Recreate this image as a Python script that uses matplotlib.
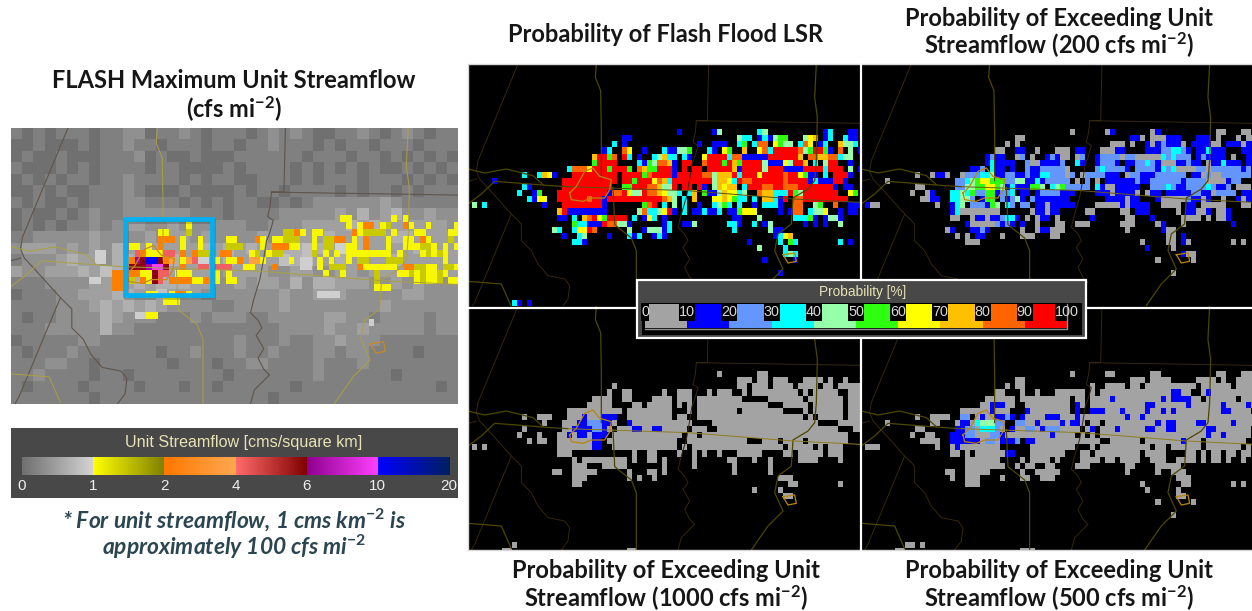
import numpy as np
import matplotlib
matplotlib.use("Agg")
import matplotlib.pyplot as plt
from matplotlib.colors import ListedColormap, BoundaryNorm, LinearSegmentedColormap
from matplotlib.patches import Rectangle

plt.rcParams['mathtext.fontset'] = 'custom'
plt.rcParams['mathtext.rm'] = 'Lato:bold'
plt.rcParams['mathtext.bf'] = 'Lato:bold'
plt.rcParams['mathtext.it'] = 'Lato:bold:italic'
plt.rcParams['mathtext.default'] = 'rm'

W, H = 1252, 611
SCENE_W, SCENE_H = 1176, 732
CELL_W, CELL_H = 15, 18.3
GRID_X0, GRID_Y0 = 11, 13
N_COLS, N_ROWS = 80, 40

# ---------- data ----------
PROB_TICKS = [0, 10, 20, 30, 40, 50, 60, 70, 80, 90, 100]
PROB_COLORS = ['#a3a3a3', '#0000ff', '#6496ff', '#00ffff', '#96ffaa',
               '#2eff10', '#ffff00', '#ffc000', '#ff6400', '#ff0000']
FLOW_TICKS = ['0', '1', '2', '4', '6', '10', '20']
FLOW_STOPS = [('#707070', '#d4d4d4'), ('#ffff00', '#808000'), ('#ff7800', '#ffa850'),
              ('#ff6a6a', '#800000'), ('#900090', '#ff40ff'), ('#0000ff', '#002060')]

# probability bins per grid cell: '.' none, 0-9 = decile; ten-column chunks; first row is 10
LSR = [
 ".......... .......... .......... .......... .1......14 .......34. .......... 13...11...",
 ".......... .......... .......... 11........ .......... ...433.131 455...467. 13..311...",
 ".......... .......... ........3. 1......... .....1..11 1..35.388. 6544.386.1 3..7443...",
 ".......... .......... ......13.. 86..1...31 1445...31. 65..7..683 9999984599 51.8.4.1..",
 ".......... .......... ....79958. 93.1..3473 3.31..6999 9388111119 999997.887 788344....",
 ".......... .......... ....59999. ...3154887 1.99..8999 5975999941 1164997.3. 499..1....",
 ".......... .........3 8886999599 95.8755999 1.9.99.999 9971999949 9911119999 3999.4.1.9",
 ".......... 3..3761... 999999999. 9999589999 1999998847 7793999699 998996511. 3.9991....",
 "....1..... ........99 999999999. 9959996873 9999999947 7639889999 9989999131 11991.....",
 ".......... 31......99 99999999.. 5599988744 9.99.91.47 677.399988 9988899999 991.11....",
 ".........3 ..15...999 9999999188 9644988764 43.37.5114 76634..877 3339549999 999..65...",
 ".......... .3166..999 9998991999 9999999987 4.3.7...66 76533.3.77 319.889999 99999.....",
 "4.3....... ....1...99 9999991... ....589.3. 4.3..1..34 53.3..1.33 31..88..45 ..8..111..",
 ".......... .......791 1111111... ...4833469 1.3.113113 .115666... .1.188.344 6..1.11...",
 ".......... .......11. 3.78965999 9.3.163.1. .......... ..11...4.. ....33351. 1441......",
 ".......... .......... 5331119884 41......13 ..114..... .331..3.14 ......1.1. 1..4......",
 ".......... ......43.. 36698..... .4..144413 .......... ..3......4 11........ ..........",
 ".......... ........1. .34....1.. .313..131. .......... .......... 1367...... ..........",
 ".......... .......... 331....... .......... .......... .....1.... .3.53..... ...3.1....",
 ".......... .......... .......... .......... .......... .......4.. ..3....... ..........",
 ".......... .......... .......... .......... .......... .......... ..343..... ..........",
 ".......... .......... .......... .......... .......... ........1. ....1..... ..........",
 "",
 ".......... .......... .......... .......... .......... .......... .1........ ..........",
]
LSR_LOW = {38: "........31 .1", 39: "......33.. .......... .......... .56"}

EX200 = [
 ".......... .......... .......... .......... .0......01 .......01. .......... 00...00...",
 ".......... .......... .......... 00........ .......... ...110.000 111...111. 0...0.00..",
 ".......... .......... ........0. 0......... .........0 00.0..1012 1110.11110 0.11101...",
 ".......... .......... ......00.. 11..0...00 0.11...000 11....1112 23321.1131 11...11...",
 ".......... .......... ....1211.. 02.0..1210 0.02..1222 2022000003 23222.1211 11.0..11..",
 ".......... .......... ....131111 ..20011112 ..31..1222 1.11223210 0011211.01 13111.1...",
 ".......... .......... .112.311.1 ..21122222 0.....2322 221.222213 2300002202 2222212...",
 ".......... 0..0110..0 2223341122 1121133222 02.0222211 1.02211122 2222.11020 0222222...",
 "....0..... ........22 3456655522 4411312222 2.0.2.0.11 1111211222 2221222200 00122.....",
 ".......... 00......22 4455665413 111554.345 22222.3100 11111..222 3211222232 112.000...",
 ".........0 ..01...334 3522551223 .11.122221 11....1110 11110.011. 1111122110 2222.11...",
 ".......... .0011..334 42.155.212 41.2111111 1.......11 11011...10 000021101. .0..101...",
 "100....... ....0..134 .222154.32 .22.110111 11....0000 0101111..0 000.11.000 00...00...",
 ".......... .......130 0000000... ...011011. ....00.... .00.111... ..0.11001. 001.......",
 ".......... .......00. .011011233 1.0.011.0. .....1.... ..00...1.. ...0000.0. 001.......",
 ".......... .......... 1000002121 .1..0...00 ..000..... .000....01 ...0...... ...1......",
 ".......... ......01.. .1121..... .0..011000 .......... ..0......1 00........ ..........",
 ".......... ........0. 0.11...0.. .000...00. .......... .......... 00.1...... ..........",
 ".......... .......... 000....... .......... .......... .....0.... 00.10..... ...0.0....",
 ".......... .......... .......... .......... .......... ......1... .0........ ..........",
 ".......... .......... .......... .......... .......... .......... ...100.... ..........",
 ".......... .......... .......... .......... .......... ........0. .....0.... ..........",
 "",
 ".......... .......... .......... .......... .......... .......... .0........ ..........",
]

EX1000 = [
 ".......... .......... .......... .......... .........0 .......00.",
 ".......... .......... .......... .......... .......... ...000.00. 000...0000 .0..0.....",
 ".......... .......... ........0. .......... .......... ...00.000. 0000.0000. 00.00000..",
 ".......... .......... .......0.. 00......0. .000...0.0 00..0.0000 00000.0.00 000..000..",
 ".......... .......... ....0000.. 00....0000 .000.00000 0000.....0 000000.000 0000.000..",
 ".......... .......... ...00000.. ..00.00000 .0.0.00000 000000000. ..00000.00 0000.000..",
 ".......... .........0 0000000000 .000000000 ...0.00000 000.000000 00....0.00 0000.000..",
 ".......... 0..000...0 001000111. .000000000 .00..00000 0000000000 000000.0.0 0000.00000",
 ".......... ....0...00 011222110. .100000000 0000....00 0000000000 000000000. ...0000000",
 ".......... 0.......00 11112210.0 0011001100 000.000..0 0000000000 0000000000 000...0000",
 ".........0 ...0...001 0110111.00 0000000000 00.00.0000 0000000000 0000000000 00000.....",
 ".......... .0.00..000 000011.000 0000000000 0..0000000 00000...00 0.0000.000 00000.....",
 "0.0....... .......000 000011..00 0000000000 0.0.000000 0000000000 00.00000.0 .000......",
 ".......... .......000 .......... ..0..00... .0..0.0..0 ...00000.. ..00.00000 .000......",
 ".......... .......... 0.00000000 0.0..00.0. ....0..... .00...0..0 .....0000. ...0......",
 ".......... .......... 000...0000 0.......0. ....0..... ..0......0 .......... ..........",
 ".......... ......00.. 00000..... .0...00.0. .......... ..0......0 .......... ..........",
 ".......... .......... 000....... .0.0..0... .......... .......... .000...... ..........",
 ".......... .......... 00........ .......... .......... .......... ...00..... ...0......",
 ".......... .......... .......... .......... .......... ......0... .0........ ..........",
 ".......... .......... .......... .......... .......... .......... ..00...... ..........",
]
EX1000_LOW = {38: "........0", 39: "......00.. .......... .......... .00"}

EX500 = [
 ".......... .......... .......... .......... .0......00 .......00. .......... 00...000..",
 ".......... .......... .......... 00........ .......... ...000.000 0.....0000 .0..0000..",
 ".......... .......... ........0. 00........ .....0..00 00.00.0000 000000.000 000.00000.",
 ".......... .......... ......00.. .0..0...00 0000.0.000 0000000000 01100..010 000000000.",
 ".......... .......... ....000000 .000000000 0.00.00001 0000000001 0111100.00 0000.0000.",
 ".......... .......... ...0011100 ..00000000 0.10.00000 0000001100 0000100000 010000100.",
 ".......... .........0 000001000. ..10000000 0.1..11100 0100001001 0100000000 0110000.00",
 ".......... 0..0000..2 2.01001121 .100001110 0010000000 0010010000 0000000000 0000000000",
 "....0..... ...00...01 10344422.. 2200100001 0110.00.00 0000000010 1100001100 0001000000",
 ".......... 00......11 22033320.1 0022012220 000.01.000 1000001100 1100000011 0000000.00",
 ".........0 ..00...111 2200022100 0000000100 00.0.0.000 0000000000 0000000010 0100000...",
 ".......... .0000..111 1110220111 2.11000000 0000000..0 00000.0000 0001000.00 000000....",
 "000....... ....0..010 0000000... ...0000000 00...0.000 0000000.00 .000000.00 00000.0.00",
 ".......... .......00. 0.00000011 ...0000000 ...00.0000 00000.0000 ....00.0.0 0.00.00...",
 ".......... .......... 0000000... .0.0000.0. ...0000.00 .0000..000 ..0000.0.0 0.0..0....",
 ".......... .......... 00000000.. 0.00..00.. ..000..... ..00....00 000....... ..........",
 ".......... ......00.. 00000..... .0..00000. .......... ..0.....0. .000...... ..........",
 ".......... .......0.. 000....0.. .00..000.. .......... .......... ..000..... ..........",
 ".......... .......... 000....... .......... .......... .....0.... ...00..... ...0.0....",
 ".......... .......... .......... .......... .......... ......0... ..0....... ..........",
 ".......... .......... .......... .......... .......... .......... ..00...... ..........",
 ".......... .......... .......... .......... .......... ........0. .....0.... ..........",
 "",
 ".......... .......... .......... .......... .......... .......... .0........ ..........",
]
EX500_LOW = {38: "........00 .0", 39: "......00.. .......... .......... .000"}

# gray background of the unit streamflow map, blocks of two columns by 1.5 rows
BG = [
 "2121222122331223212221232321122321232122",
 "1121112122322122212212232221212212221222",
 "1211211122231211211122222212221221212121",
 "2111212122221221111212222121212121121212",
 "1212122122322221212211222121222122212121",
 "1121211222321112111121221222212122121222",
 "2121121222332221212122112123333334322222",
 "1211212322333333222122223333343534533433",
 "1212122323443343333332233344445454444443",
 "2233333433334344343333433444544544554444",
 "3444343435444444454545445565474544445544",
 "2333454435544454444544446564454544544444",
 "4334445465453544443444433443344344444344",
 "2223333444454555443343443535544433434333",
 "1222334445544644433333334334443333344333",
 "2222333454545433332233334333333334333333",
 "2122333354333222323332233333443323333233",
 "2223333353322222222222223333433433333233",
 "1222223322222222222232223223343332222222",
 "2122232222222122322232232223323322221222",
 "2223322122222212221223322223222322222222",
 "2232222122122222222122222223222222122222",
 "2122221222212221221222222122222222222212",
 "2222222122222222222222212222222222222222",
]

# unit streamflow classes: y yellow, Y olive, o orange, O light orange, r rose, d dark red,
# p purple, M magenta, b blue, w pale gray; first row is 12
FLOW = [
 ".......... .......... .......... .......... .......... .......yy. ......y.y. ..........",
 ".......... .......... .......... y......... .......... ........y. yoo.yY..oy ..y....y..",
 ".......... .......... .....yy... Y......... .......YYo y.yy.....o yYYYY.y... yy....yy..",
 ".......... .......... .....ooo.y ..y....yy. ..oy.yyYYY ..y.YYoo.y .o...y..yy .oy...Y...",
 ".......... .......... yy.y.o...y ..y....YYY ...y.oooyy ..y.YY..yy .o...y..yy yYYy.y.y..",
 ".......... ....ww.... .royyyrr.o .oYY..oo.. .yY.yYY... ..Y.y.y.yy yyyyyy.y.. .yYyYy....",
 ".......... ....ww.... opdbbdoO.y Orww.y.yyo .OOy....y. ww.y.y..y. YY...YYY.. .....y...y",
 ".......... .......... dddpMMd..o ..rr.rrr.. yy...o.... ww.y.YYY.. oyyyyyy.oo YYyy.YYy..",
 ".......... .......oo. ooyydrr.yy y....y.y.. .......... ....y..y.. ...Y...yyY yYyyYy....",
 ".......... ...ww..oo. Y.oydr.ooo oyyo.y.yy. .......... .......... ...Y...... yYyyY.yy..",
 ".......... .......oo. .......... .......... .......... .......... ...yyy.... ..........",
 ".......... .......... ...yy..yoo y......... .......... ...wwww... .......... ..........",
 ".......... .......... ......yyy. .......... .......... .......... .......... ..........",
 "",
 ".......... .......... .wwyy..... .......... .......... .......... .......... ..........",
 ".......... .......... .......... .......... .......... .......... ..w....... ..........",
]
FLOW_KEYS = ".wWyYoOrdpMb"
FLOW_COLORS = ['#000000', '#cfcfcf', '#e2e2e2', '#f7f700', '#c9c900', '#ff8000', '#ffa040',
               '#f06060', '#8c0010', '#a000a0', '#f040f0', '#0000ff']

# base map polylines in scene units
ROADS = [
 [(385, 0), (382, 40), (398, 80), (400, 200), (400, 350)],
 [(1045, 0), (1040, 100), (1048, 160), (1045, 290), (1040, 350), (1020, 375), (975, 402), (970, 480),
  (930, 510), (920, 560), (945, 615), (900, 660), (850, 732)],
 [(0, 315), (50, 327), (115, 315), (195, 335), (225, 362)],
 [(0, 420), (40, 390), (80, 352), (250, 365), (300, 368)],
 [(435, 370), (440, 482), (490, 522), (505, 560), (505, 732)],
 [(0, 652), (100, 660), (130, 728)],
]
HIGHWAY = [(300, 368), (660, 380), (975, 405), (1176, 415)]
BORDERS = [
 [(150, 0), (30, 290), (25, 320), (35, 345), (60, 372), (130, 450), (160, 480), (160, 530), (190, 560),
  (210, 600), (240, 635), (290, 645), (305, 665), (300, 705), (280, 732)],
 [(130, 450), (20, 715), (10, 732)],
 [(722, 0), (718, 170), (685, 170), (1176, 178)],
 [(685, 170), (682, 205), (675, 235), (690, 245), (680, 280), (672, 300), (665, 345), (655, 400),
  (640, 450), (630, 490), (650, 510), (660, 530), (645, 550), (665, 585), (650, 610), (665, 640),
  (680, 655), (640, 695), (630, 732)],
 [(0, 352), (25, 345)],
]
CITIES = [
 [(305, 387), (325, 367), (350, 322), (375, 312), (395, 337), (430, 347), (425, 377), (410, 402),
  (370, 402), (345, 412), (310, 407), (305, 387)],
 [(945, 572), (980, 567), (985, 592), (960, 597), (945, 572)],
]


# ---------- helpers ----------
def px_axes(fig, x, y, w, h, z=1):
    ax = fig.add_axes([x / W, 1 - (y + h) / H, w / W, h / H], zorder=z)
    ax.set_axis_off()
    return ax


def parse(rows, keys, low=None, first=10):
    g = np.full((N_ROWS, N_COLS), np.nan)

    def put(j, s):
        cells = ''.join(c.ljust(10, '.')[:10] for c in s.split())
        for k, ch in enumerate(cells[:N_COLS]):
            if ch != '.':
                g[j, k] = keys.index(ch)
    for j, s in enumerate(rows):
        put(first + j, s)
    for j, s in (low or {}).items():
        put(j, s)
    return g


def draw_cells(ax, g, cmap, n):
    ax.imshow(np.ma.masked_invalid(g), cmap=cmap, norm=BoundaryNorm(np.arange(n + 1) - .5, n),
              extent=(GRID_X0, GRID_X0 + CELL_W * N_COLS, GRID_Y0 + CELL_H * N_ROWS, GRID_Y0),
              aspect='auto', interpolation='nearest', zorder=2)
    ax.set_xlim(0, SCENE_W)
    ax.set_ylim(SCENE_H, 0)


def draw_map(ax, road, border, city, hwy, road_lw=.9, border_lw=.7):
    for line in BORDERS:
        a = np.array(line)
        ax.plot(a[:, 0], a[:, 1], color=border, lw=border_lw, zorder=3)
    for line in ROADS:
        a = np.array(line)
        ax.plot(a[:, 0], a[:, 1], color=road, lw=road_lw, zorder=3)
    a = np.array(HIGHWAY)
    ax.plot(a[:, 0], a[:, 1], color=hwy, lw=.7, zorder=3)
    for line in CITIES:
        a = np.array(line)
        ax.plot(a[:, 0], a[:, 1], color=city, lw=.9, zorder=4)


fig = plt.figure(figsize=(W / 100, H / 100), dpi=100, facecolor='white')
TXT = px_axes(fig, 0, 0, W, H, 20)
TXT.set_xlim(0, W)
TXT.set_ylim(H, 0)

# ---------- probability panels ----------
prob_cmap = ListedColormap(PROB_COLORS)
keys = "0123456789"
panels = [
    (468, 64, LSR, LSR_LOW, '#5a4f10'),
    (861.3, 64, EX200, None, '#6a5c10'),
    (468, 306, EX1000, EX1000_LOW, '#8f7d20'),
    (861.3, 306, EX500, EX500_LOW, '#8f7d20'),
]
for (x, y, rows, low, hwy) in panels:
    ax = px_axes(fig, x, y, 392, 244, 2)
    ax.set_axis_on()
    ax.set_facecolor('black')
    ax.set_xticks([])
    ax.set_yticks([])
    for s in ax.spines.values():
        s.set_visible(False)
    draw_cells(ax, parse(rows, keys, low), prob_cmap, 10)
    draw_map(ax, '#4d4600', '#33270f', '#b8860b', hwy)

TXT.add_patch(Rectangle((467.5, 64), 785, 486, fill=False, ec='#d8d8d8', lw=1))
TXT.plot([860.5, 860.5], [64, 550], color='white', lw=1.6)
TXT.plot([468, 1252], [307.5, 307.5], color='white', lw=1.6)

# ---------- unit streamflow map ----------
ax = px_axes(fig, 11, 128, 447, 276, 2)
bg = np.array([[int(c) for c in r] for r in BG], float)
ax.imshow(bg, cmap='gray', vmin=-6, vmax=10, extent=(0, SCENE_W, SCENE_H, 0), aspect='auto',
          interpolation='nearest', zorder=1)
flow_cmap = ListedColormap(FLOW_COLORS)
draw_cells(ax, parse(FLOW, FLOW_KEYS, first=12), flow_cmap, len(FLOW_KEYS))
draw_map(ax, '#aaa142', '#5e554c', '#c88a20', '#aaa142', road_lw=.7, border_lw=.8)
TXT.add_patch(Rectangle((126, 221), 87, 76, fill=False, ec='black', alpha=.2, lw=3.4))
TXT.add_patch(Rectangle((124.5, 219), 87, 76, fill=False, ec='#00b0f0', lw=3.4))

# ---------- unit streamflow colour bar ----------
TXT.add_patch(Rectangle((11, 428), 447, 70, fc='#484848', ec='none'))
edges = np.linspace(22, 449, len(FLOW_STOPS) + 1)
cb = px_axes(fig, 0, 0, W, H, 21)
for i, (c0, c1) in enumerate(FLOW_STOPS):
    cm = LinearSegmentedColormap.from_list('s', [c0, c1])
    cb.imshow(np.linspace(0, 1, 64)[None, :], cmap=cm, extent=(edges[i], edges[i + 1], 475, 457), aspect='auto')
cb.set_xlim(0, W)
cb.set_ylim(H, 0)
for lab, ex in zip(FLOW_TICKS, edges):
    cb.text(ex, 485.5, lab, ha='center', va='center', color='#eeeeee', family='Liberation Sans', fontsize=11)
cb.text(244, 442, "Unit Streamflow [cms/square km]", ha='center', va='center', color='#e8e2b4',
        family='Liberation Sans', fontsize=11.6)

# ---------- probability colour bar ----------
cb.add_patch(Rectangle((637, 280), 449, 58, fc='#484848', ec='white', lw=1.6))
cb.add_patch(Rectangle((642, 303), 440, 32, fc='black', ec='none'))
pedges = np.linspace(645, 1067, len(PROB_COLORS) + 1)
for i, c in enumerate(PROB_COLORS):
    cb.add_patch(Rectangle((pedges[i], 304), pedges[i + 1] - pedges[i], 24, fc=c, ec='none'))
cb.plot([645, 1067, 1067], [329, 329, 304], color='#909090', lw=1)
for t, ex in zip(PROB_TICKS, pedges):
    bw = 8 if t == 0 else (24 if t == 100 else 16)
    cb.add_patch(Rectangle((ex - bw / 2, 303), bw, 18, fc='black', ec='none'))
    cb.text(ex, 312, str(t), ha='center', va='center', color='#d8d8d8', family='Liberation Sans', fontsize=10.4)
cb.text(863, 292, "Probability [%]", ha='center', va='center', color='#e8e2b4', family='Liberation Sans', fontsize=9.8)

# ---------- titles ----------
tk = dict(ha='center', va='center', family='Lato', weight='bold', color='#161616', fontsize=17)
cb.text(666, 35, "Probability of Flash Flood LSR", **tk)
cb.text(1059, 18, "Probability of Exceeding Unit", **tk)
cb.text(1059, 45, r"Streamflow (200 cfs mi$^{-2}$)", **tk)
cb.text(666, 571, "Probability of Exceeding Unit", **tk)
cb.text(666, 598, r"Streamflow (1000 cfs mi$^{-2}$)", **tk)
cb.text(1059, 571, "Probability of Exceeding Unit", **tk)
cb.text(1059, 598, r"Streamflow (500 cfs mi$^{-2}$)", **tk)
cb.text(234, 81, "FLASH Maximum Unit Streamflow", **tk)
cb.text(234, 109, r"(cfs mi$^{-2}$)", **tk)
nk = dict(ha='center', va='center', family='Lato', weight='bold', style='italic', color='#2b4650', fontsize=16.4)
cb.text(234, 520, r"* For unit streamflow, 1 cms km$^{\mathit{-2}}$ is", **nk)
cb.text(234, 547, r"approximately 100 cfs mi$^{\mathit{-2}}$", **nk)

fig.savefig('out.png', dpi=100, facecolor='white')
